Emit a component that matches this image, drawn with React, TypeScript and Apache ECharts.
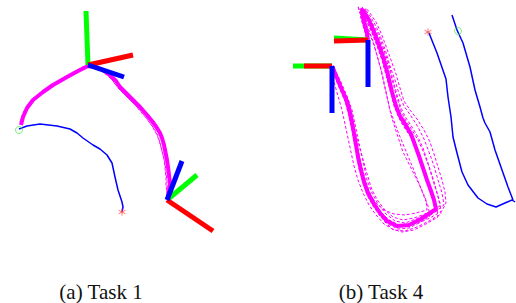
import React, { useEffect, useRef } from "react";
import * as echarts from "echarts";

// ---------- captions ----------
const captions = ["(a) Task 1", "(b) Task 4"];

// ---------- Task 1 (left panel) ----------
const task1Demo: number[][] = [
  [21, 125], [23, 117], [27, 108], [33, 100], [43, 92], [53, 85], [67, 77], [78, 71], [88, 66],
  [96, 67], [103, 70], [110, 75], [116, 81], [120, 87], [127, 94], [133, 100], [140, 107],
  [147, 115], [152, 121], [157, 128], [160, 133], [162, 138], [164, 145], [165, 150], [167, 160],
  [168, 167], [169, 175], [170, 183], [169, 190], [168, 196],
];
const task1RolloutA: number[][] = [
  [20, 122], [23, 113], [28, 104], [35, 97], [45, 89], [56, 82], [68, 75], [79, 69], [88, 64],
  [97, 66], [104, 71], [110, 77], [115, 84], [121, 91], [128, 98], [135, 105], [141, 112],
  [147, 119], [152, 126], [156, 133], [159, 140], [161, 147], [163, 155], [165, 163], [166, 172],
  [167, 181], [167, 190], [167, 197],
];
const task1RolloutB: number[][] = [
  [22, 124], [24, 115], [29, 106], [36, 98], [45, 91], [55, 84], [67, 78], [78, 72], [88, 67],
  [97, 69], [105, 73], [112, 78], [118, 84], [124, 91], [130, 98], [137, 104], [143, 111],
  [149, 118], [154, 124], [159, 131], [162, 137], [164, 144], [166, 152], [168, 160], [169, 169],
  [170, 177], [171, 186], [170, 194],
];
const task1RolloutC: number[][] = [
  [21, 123], [24, 114], [28, 106], [34, 99], [44, 91], [54, 84], [66, 77], [77, 71], [87, 66],
  [95, 67], [102, 71], [108, 76], [114, 82], [119, 89], [126, 96], [132, 102], [139, 109],
  [145, 116], [150, 123], [155, 130], [158, 136], [160, 143], [162, 151], [164, 159], [165, 168],
  [166, 178], [166, 187], [168, 195],
];
const task1Object: number[][] = [
  [19, 129], [27, 126], [40, 124], [57, 126], [70, 129], [77, 133], [83, 138], [93, 145],
  [100, 149], [107, 155], [112, 163], [115, 177], [118, 190], [122, 202], [123, 207], [122, 212],
];
const task1Start = [19, 130];
const task1End = [122, 212];
// frames: [origin, red end, green end, blue end]
const task1FrameA: number[][] = [[88, 65], [133, 55], [86, 11], [124, 77]];
const task1FrameB: number[][] = [[167, 200], [213, 231], [197, 175], [182, 161]];

// ---------- Task 4 (right panel) ----------
const task4Demo: number[][] = [
  [332, 66], [337, 78], [342, 90], [347, 101], [350, 112], [352, 122], [354, 133], [356, 145],
  [358, 157], [361, 170], [364, 182], [368, 193], [374, 204], [380, 213], [387, 221], [397, 226],
  [409, 225], [421, 219], [436, 209], [434, 200], [431, 191], [427, 180], [423, 168], [419, 156],
  [415, 145], [411, 134], [405, 124], [400, 116], [396, 106], [392, 92], [388, 75], [384, 60],
  [379, 45], [374, 32], [369, 20], [364, 12], [362, 10], [363, 16], [365, 25], [367, 33], [368, 40],
];
const task4RolloutA: number[][] = [
  [334, 68], [341, 82], [347, 96], [352, 110], [355, 124], [358, 138], [361, 152], [364, 166],
  [367, 180], [372, 193], [378, 204], [386, 214], [395, 221], [405, 223], [416, 219], [428, 213],
  [440, 206], [438, 196], [435, 185], [431, 172], [427, 160], [423, 148], [418, 137], [412, 127],
  [406, 118], [401, 108], [397, 95], [393, 80], [389, 65], [384, 50], [379, 36], [373, 24],
  [367, 14], [361, 8], [360, 13], [362, 22], [365, 32], [367, 40],
];
const task4RolloutB: number[][] = [
  [333, 67], [339, 80], [345, 94], [349, 106], [352, 120], [355, 134], [357, 148], [360, 162],
  [363, 176], [368, 190], [374, 202], [381, 212], [389, 220], [399, 225], [411, 224], [423, 219],
  [434, 213], [444, 205], [442, 193], [438, 180], [434, 166], [429, 152], [424, 139], [418, 127],
  [411, 116], [404, 106], [399, 94], [395, 80], [390, 66], [386, 52], [381, 38], [376, 26],
  [370, 16], [365, 9], [363, 14], [364, 23], [366, 33], [368, 41],
];
const task4RolloutC: number[][] = [
  [331, 67], [336, 80], [341, 92], [346, 104], [349, 117], [352, 130], [354, 143], [357, 156],
  [359, 169], [363, 182], [367, 195], [373, 206], [380, 216], [388, 224], [398, 229], [409, 228],
  [419, 223], [430, 216], [428, 206], [423, 194], [418, 181], [413, 168], [408, 156], [403, 144],
  [398, 132], [394, 121], [390, 110], [387, 97], [384, 84], [381, 70], [377, 55], [373, 41],
  [368, 28], [363, 18], [359, 11], [358, 6], [361, 15], [364, 26], [367, 36],
];
const task4RolloutD: number[][] = [
  [333, 66], [338, 79], [344, 92], [348, 104], [351, 118], [353, 132], [356, 146], [359, 160],
  [362, 174], [366, 188], [371, 200], [377, 211], [384, 221], [392, 229], [402, 232], [414, 230],
  [426, 224], [438, 217], [437, 207], [433, 195], [428, 183], [424, 170], [420, 158], [416, 146],
  [410, 136], [404, 127], [399, 118], [394, 106], [390, 90], [386, 75], [382, 60], [377, 46],
  [372, 33], [367, 22], [363, 14], [364, 20], [366, 30], [368, 38],
];
const task4RolloutE: number[][] = [
  [334, 67], [340, 82], [346, 97], [350, 112], [353, 126], [356, 140], [359, 154], [362, 168],
  [366, 182], [371, 196], [377, 207], [385, 217], [395, 224], [406, 226], [418, 223], [430, 218],
  [442, 211], [446, 203], [445, 192], [442, 180], [438, 167], [434, 154], [430, 142], [424, 130],
  [417, 119], [410, 110], [404, 101], [400, 88], [396, 74], [391, 60], [386, 46], [381, 33],
  [376, 22], [370, 13], [366, 8], [365, 15], [366, 26], [368, 36],
];
const task4RolloutF: number[][] = [
  [332, 68], [338, 82], [343, 95], [348, 108], [352, 121], [356, 135], [360, 149], [364, 163],
  [368, 177], [372, 190], [378, 201], [385, 210], [393, 217], [403, 220], [414, 218], [425, 214],
  [436, 210], [435, 201], [432, 192], [428, 181], [424, 170], [420, 158], [416, 147], [411, 137],
  [406, 129], [401, 122], [397, 112], [393, 100], [389, 85], [385, 70], [381, 56], [376, 42],
  [371, 30], [366, 20], [361, 13], [362, 19], [364, 28], [367, 38],
];
const task4RolloutG: number[][] = [
  [333, 70], [339, 84], [344, 98], [348, 112], [351, 126], [354, 140], [357, 154], [360, 168],
  [364, 181], [369, 193], [376, 203], [384, 210], [394, 214], [405, 215], [416, 213], [427, 210],
  [426, 200], [421, 188], [415, 176], [409, 164], [403, 152], [399, 140], [395, 128], [391, 115],
  [388, 101], [385, 87], [382, 73], [378, 59], [374, 45], [369, 32], [364, 21], [360, 12],
  [361, 18], [364, 28], [367, 39],
];
const task4RolloutH: number[][] = [
  [330, 68], [334, 82], [338, 96], [342, 110], [345, 124], [348, 138], [351, 152], [354, 166],
  [358, 180], [363, 193], [369, 205], [376, 215], [384, 224], [394, 230], [405, 231], [417, 227],
  [429, 221], [441, 214], [440, 203], [436, 190], [432, 177], [428, 164], [423, 151], [418, 140],
  [412, 130], [406, 121], [401, 111], [397, 98], [393, 83], [389, 68], [384, 53], [379, 39],
  [373, 26], [367, 15], [362, 7], [361, 13], [363, 22], [366, 32], [368, 40],
];
const task4ObjectA: number[][] = [
  [429, 33], [437, 53], [446, 79], [448, 97], [451, 117], [453, 137], [457, 153], [462, 172],
  [468, 185], [478, 198], [487, 204], [496, 207], [505, 203], [512, 200], [515, 202],
];
const task4ObjectB: number[][] = [
  [452, 15], [457, 30], [463, 43], [470, 67], [475, 90], [480, 107], [483, 118], [485, 123],
  [490, 132], [495, 150], [502, 170], [508, 187], [513, 200],
];
const task4Start = [458, 31];
const task4End = [428, 32];
const task4FrameA: number[][] = [[332, 66], [304, 66], [293, 66], [332, 113]];
const task4FrameB: number[][] = [[368, 40], [334, 41], [334, 38], [368, 87]];

const MAGENTA = "#ff00ff";
const RED = "#ff0000";
const GREEN = "#00ff00";
const BLUE = "#0000ff";
const SERIF = "Liberation Serif";

function lineSeries(data: number[][], panel: number, color: string, width: number, dashed = false, z = 2) {
  return {
    type: "line",
    xAxisIndex: panel,
    yAxisIndex: panel,
    data,
    showSymbol: false,
    symbol: "none",
    smooth: false,
    clip: false,
    silent: true,
    z,
    lineStyle: { color, width, type: dashed ? [3, 2] : "solid", cap: "butt", join: "round" },
  };
}

function frameSeries(frame: number[][], panel: number) {
  const [o, r, g, b] = frame;
  return [
    lineSeries([o, g], panel, GREEN, 5, false, 4),
    lineSeries([o, r], panel, RED, 5, false, 5),
    lineSeries([o, b], panel, BLUE, 5, false, 6),
  ];
}

function markerSeries(start: number[], end: number[], panel: number) {
  return [
    {
      type: "scatter",
      xAxisIndex: panel,
      yAxisIndex: panel,
      data: [start],
      symbol: "circle",
      symbolSize: 7,
      silent: true,
      z: 7,
      itemStyle: { color: "transparent", borderColor: "#55ee55", borderWidth: 1 },
    },
    {
      type: "scatter",
      xAxisIndex: panel,
      yAxisIndex: panel,
      data: [end],
      symbol: "path://M5,0L5,10M0.7,2.5L9.3,7.5M0.7,7.5L9.3,2.5",
      symbolSize: 7,
      silent: true,
      z: 7,
      itemStyle: { color: "transparent", borderColor: "#ff5050", borderWidth: 1 },
    },
  ];
}

function caption(text: string, x: number) {
  return {
    type: "text",
    x,
    y: 292,
    style: {
      text,
      fontFamily: SERIF,
      fontSize: 21,
      fill: "#111",
      textAlign: "center",
      textVerticalAlign: "middle",
    },
  };
}

export default function App() {
  const ref = useRef<HTMLDivElement>(null);
  useEffect(() => {
    if (!ref.current) return;
    const chart = echarts.init(ref.current, undefined, { renderer: "svg" });
    const axisCommon = { show: false, splitLine: { show: false } };
    chart.setOption({
      animation: false,
      backgroundColor: "#ffffff",
      textStyle: { fontFamily: SERIF },
      grid: [
        { left: 0, top: 0, width: 258, height: 250 },
        { left: 258, top: 0, width: 258, height: 250 },
      ],
      xAxis: [
        { type: "value", gridIndex: 0, min: 0, max: 258, ...axisCommon },
        { type: "value", gridIndex: 1, min: 258, max: 516, ...axisCommon },
      ],
      yAxis: [
        { type: "value", gridIndex: 0, min: 0, max: 250, inverse: true, ...axisCommon },
        { type: "value", gridIndex: 1, min: 0, max: 250, inverse: true, ...axisCommon },
      ],
      graphic: [caption(captions[0], 101), caption(captions[1], 381)],
      series: [
        lineSeries(task1RolloutA, 0, MAGENTA, 1, true),
        lineSeries(task1RolloutB, 0, MAGENTA, 1, true),
        lineSeries(task1RolloutC, 0, MAGENTA, 1, true),
        lineSeries(task1Demo, 0, MAGENTA, 4, false, 3),
        lineSeries(task1Object, 0, BLUE, 1.5, false, 3),
        ...frameSeries(task1FrameA, 0),
        ...frameSeries(task1FrameB, 0),
        ...markerSeries(task1Start, task1End, 0),

        lineSeries(task4RolloutA, 1, MAGENTA, 1, true),
        lineSeries(task4RolloutB, 1, MAGENTA, 1, true),
        lineSeries(task4RolloutC, 1, MAGENTA, 1, true),
        lineSeries(task4RolloutD, 1, MAGENTA, 1, true),
        lineSeries(task4RolloutE, 1, MAGENTA, 1, true),
        lineSeries(task4RolloutF, 1, MAGENTA, 1, true),
        lineSeries(task4RolloutG, 1, MAGENTA, 1, true),
        lineSeries(task4RolloutH, 1, MAGENTA, 1, true),
        lineSeries(task4Demo, 1, MAGENTA, 4, false, 3),
        lineSeries(task4ObjectA, 1, BLUE, 1.5, false, 3),
        lineSeries(task4ObjectB, 1, BLUE, 1.5, false, 3),
        ...frameSeries(task4FrameA, 1),
        ...frameSeries(task4FrameB, 1),
        ...markerSeries(task4Start, task4End, 1),
      ],
    });
    return () => chart.dispose();
  }, []);
  return (
    <div
      ref={ref}
      style={{ position: "absolute", left: 0, top: 0, width: 516, height: 303, background: "#fff" }}
    />
  );
}
